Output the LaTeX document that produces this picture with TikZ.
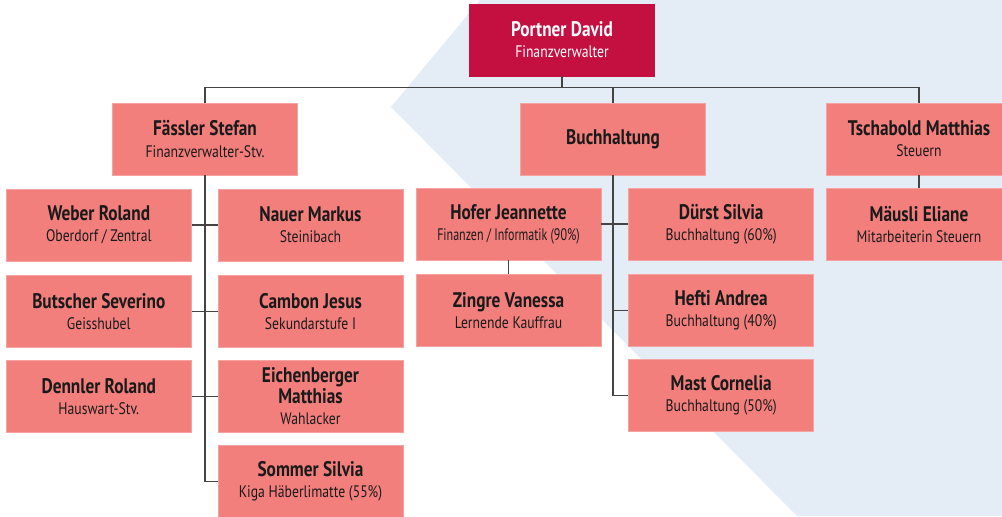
\documentclass[tikz,border=0pt]{standalone}
\usepackage{fontspec}
\setmainfont{PT Sans}[FakeStretch=0.82]
\usetikzlibrary{positioning}

\definecolor{chiefred}{HTML}{C41041}
\definecolor{salmon}{HTML}{F37F7D}
\definecolor{salmonline}{HTML}{F5A3A1}
\definecolor{paleblue}{HTML}{E4ECF5}
\definecolor{linegray}{HTML}{444444}
\definecolor{textdark}{HTML}{1A1A1A}

\newcommand{\namefont}{\fontsize{12}{14}\selectfont\bfseries}
\newcommand{\subfont}{\fontsize{9.5}{12}\selectfont\mdseries}
\newcommand{\person}[2]{\namefont #1\\\subfont #2}

\begin{document}
\begin{tikzpicture}[
    node distance=0.28cm,
    box/.style={rectangle, draw=salmonline, fill=salmon, text=textdark, minimum width=3.7cm, minimum height=1.44cm, inner sep=0pt, align=center},
    chief/.style={box, draw=chiefred, fill=chiefred, text=white},
    link/.style={draw=linegray, line width=0.6pt}
]
\useasboundingbox (0,0) rectangle (20.04,-10.32);
\clip (0,0) rectangle (20.04,-10.32);

% Background
\fill[paleblue] (7.82,-2.14) -- (9.6,0) -- (20.04,0) -- (20.04,-10.32) -- (15.94,-10.32) -- cycle;

% Top
\node[chief] (portner) at (11.24,-0.80) {\person{Portner David}{Finanzverwalter}};

% Second level
\node[box] (fassler) at (4.10,-2.78) {\person{Fässler Stefan}{Finanzverwalter-Stv.}};
\node[box] (buch) at (12.26,-2.78) {\namefont Buchhaltung};
\node[box] (tscha) at (18.38,-2.78) {\person{Tschabold Matthias}{Steuern}};

% Fässler group
\node[box] (nauer) at (6.21,-4.50) {\person{Nauer Markus}{Steinibach}};
\node[box, below=of nauer] (cambon) {\person{Cambon Jesus}{Sekundarstufe I}};
\node[box, below=0.24cm of cambon] (eichen) {\namefont Eichenberger\\\namefont Matthias\\\subfont Wahlacker};
\node[box, below=0.24cm of eichen] (sommer) {\person{Sommer Silvia}{Kiga Häberlimatte (55\%)}};
\node[box, left=0.52cm of nauer] (weber) {\person{Weber Roland}{Oberdorf / Zentral}};
\node[box, left=0.52cm of cambon] (butscher) {\person{Butscher Severino}{Geisshubel}};
\node[box, left=0.52cm of eichen] (dennler) {\person{Dennler Roland}{Hauswart-Stv.}};

% Buchhaltung group
\node[box] (hofer) at (10.17,-4.48) {\person{Hofer Jeannette}{\addfontfeatures{FakeStretch=0.72}Finanzen / Informatik (90\%)}};
\node[box, below=of hofer] (zingre) {\person{Zingre Vanessa}{Lernende Kauffrau}};
\node[box, right=0.54cm of hofer] (durst) {\person{Dürst Silvia}{Buchhaltung (60\%)}};
\node[box, below=of durst] (hefti) {\person{Hefti Andrea}{Buchhaltung (40\%)}};
\node[box, below=0.24cm of hefti] (mast) {\person{Mast Cornelia}{Buchhaltung (50\%)}};

% Steuern
\node[box, below=0.26cm of tscha] (maeusli) {\person{Mäusli Eliane}{Mitarbeiterin Steuern}};

% Lines - top
\draw[link] (portner.south) -- ++(0,-0.22) -| (fassler.north);
\draw[link] (portner.south) -- ++(0,-0.22) -| (buch.north);
\draw[link] (portner.south) -- ++(0,-0.22) -| (tscha.north);

% Lines - Fässler
\draw[link] (fassler.south) |- (sommer.west);
\draw[link] (weber.east) -- (nauer.west);
\draw[link] (butscher.east) -- (cambon.west);
\draw[link] (dennler.east) -- (eichen.west);

% Lines - Buchhaltung
\draw[link] (buch.south) |- (mast.west);
\draw[link] (buch.south) |- (hefti.west);
\draw[link] (hofer.east) -- (durst.west);
\draw[link] (hofer.south) -- (zingre.north);

% Lines - Steuern
\draw[link] (tscha.south) -- (maeusli.north);

\end{tikzpicture}
\end{document}
